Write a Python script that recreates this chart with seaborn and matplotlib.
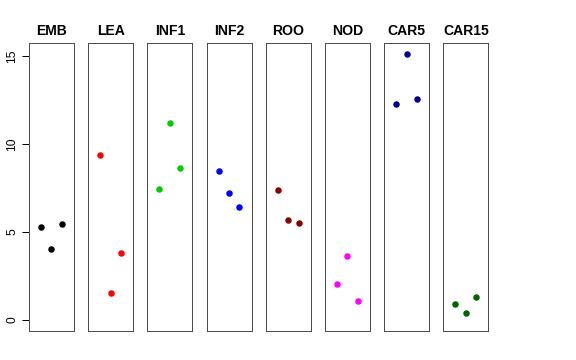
import matplotlib
matplotlib.use("Agg")
import matplotlib.pyplot as plt
import seaborn as sns
import pandas as pd

panels = ["EMB", "LEA", "INF1", "INF2", "ROO", "NOD", "CAR5", "CAR15"]
colors = ["#000000", "#FF0000", "#00CD00", "#0000FF", "#8B0000", "#FF00FF", "#00008B", "#006400"]
emb = [5.27, 4.02, 5.44]
lea = [9.39, 1.51, 3.79]
inf1 = [7.42, 11.17, 8.62]
inf2 = [8.47, 7.24, 6.44]
roo = [7.37, 5.66, 5.51]
nod = [2.06, 3.64, 1.06]
car5 = [12.27, 15.13, 12.56]
car15 = [0.91, 0.38, 1.31]
yticks = [0, 5, 10, 15]

values = [emb, lea, inf1, inf2, roo, nod, car5, car15]
rows = []
for p, vals in zip(panels, values):
    for i, v in enumerate(vals):
        rows.append({"panel": p, "pos": i + 1, "value": v})
df = pd.DataFrame(rows)

sns.set_style("white")
plt.rcParams["font.family"] = ["Liberation Sans", "DejaVu Sans"]
plt.rcParams["text.color"] = "black"
plt.rcParams["ytick.color"] = "black"

fig, axes = plt.subplots(1, len(panels), figsize=(8, 5), dpi=72, sharey=True)
fig.subplots_adjust(left=29/576, right=488.3/576, bottom=1-331/360, top=1-43.3/360, wspace=0.318)

for ax, p, c in zip(axes, panels, colors):
    sub = df[df["panel"] == p]
    sns.scatterplot(data=sub, x="pos", y="value", ax=ax, color=c, s=42, linewidth=0, legend=False)
    ax.set_xlim(-0.15, 4.15)
    ax.set_ylim(-0.63, 15.72)
    ax.set_xticks([])
    ax.set_xlabel("")
    ax.set_ylabel("")
    ax.set_title(p, fontsize=14, fontweight="bold", pad=8, color="black")
    for s in ax.spines.values():
        s.set_visible(True)
        s.set_color("#4d4d4d")
        s.set_linewidth(1.0)
    ax.tick_params(axis="y", left=False, labelleft=False)

ax0 = axes[0]
ax0.set_yticks(yticks)
ax0.set_yticklabels([str(t) for t in yticks], rotation=90, va="center", fontsize=12, color="black")
ax0.tick_params(axis="y", left=True, labelleft=True, length=7, width=1, color="black", pad=4)

fig.savefig("out.png", dpi=72)
